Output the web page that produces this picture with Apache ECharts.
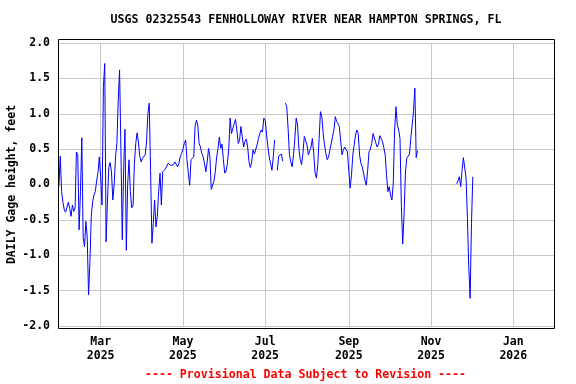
<!DOCTYPE html>
<html><head><meta charset="utf-8">
<script src="https://cdn.jsdelivr.net/npm/echarts@6/dist/echarts.min.js"></script>
<style>html,body{margin:0;padding:0;background:#fff}#c{width:576px;height:384px}</style>
</head><body><div id="c"></div>
<script>
const titleText = 'USGS 02325543 FENHOLLOWAY RIVER NEAR HAMPTON SPRINGS, FL';
const yAxisName = 'DAILY Gage height, feet';
const footerText = '---- Provisional Data Subject to Revision ----';

// daily values, first block starting 2025-01-29
const seg1Start = [2025, 1, 29];
const seg1Values = [
  -0.03, 0.40, -0.10, -0.25, -0.36, -0.39, -0.38, -0.25, -0.34, -0.45,
  -0.29, -0.38, -0.33, 0.46, 0.42, -0.64, -0.10, 0.66, -0.75, -0.88,
  -0.52, -0.74, -1.56, -1.10, -0.45, -0.25, -0.15, -0.10, 0.05, 0.17,
  0.39, 0.10, -0.29, 1.38, 1.71, -0.81, -0.25, 0.24, 0.31, 0.18,
  -0.22, 0.00, 0.39, 0.58, 1.19, 1.62, 0.50, -0.78, 0.20, 0.78,
  -0.93, 0.00, 0.35, -0.10, -0.33, -0.30, 0.30, 0.58, 0.73, 0.60,
  0.40, 0.32, 0.37, 0.37, 0.42, 0.60, 1.00, 1.15, 0.20, -0.83,
  -0.55, -0.22, -0.60, -0.45, -0.10, 0.16, -0.29, 0.18, 0.20, 0.22,
  0.22, 0.30, 0.32, 0.27, 0.25, 0.28, 0.32, 0.30, 0.25, 0.30,
  0.39, 0.44, 0.50, 0.58, 0.63, 0.35, 0.16, -0.01, 0.35, 0.37,
  0.39, 0.82, 0.91, 0.84, 0.58, 0.53, 0.44, 0.39, 0.30, 0.18,
  0.32, 0.51, 0.39, -0.07, -0.05, 0.05, 0.18, 0.39, 0.51, 0.67,
  0.51, 0.57, 0.35, 0.16, 0.19, 0.30, 0.51, 0.94, 0.72, 0.72,
  0.86, 0.92, 0.77, 0.58, 0.63, 0.82, 0.68, 0.53, 0.61, 0.64,
  0.53, 0.32, 0.24, 0.32, 0.49, 0.43, 0.45, 0.56, 0.65, 0.72,
  0.77, 0.74, 0.94, 0.91, 0.71, 0.53, 0.39, 0.30, 0.20, 0.39,
  0.63, null, 0.20, 0.40, 0.40, 0.43, 0.33, null, 1.15, 1.10,
  0.79, 0.42, 0.32, 0.25, 0.42, 0.65, 0.94, 0.84, 0.51, 0.35,
  0.28, 0.44, 0.68, 0.68, 0.56, 0.42, 0.44, 0.53, 0.65, 0.44,
  0.16, 0.09, 0.28, 0.65, 1.03, 0.96, 0.72, 0.56, 0.44, 0.35,
  0.39, 0.49, 0.58, 0.68, 0.77, 0.96, 0.89, 0.86, 0.82, 0.61,
  0.42, 0.49, 0.53, 0.51, 0.46, 0.20, -0.05, 0.13, 0.42, 0.56,
  0.70, 0.77, 0.72, 0.42, 0.30, 0.25, 0.25, 0.06, -0.01, 0.20,
  0.46, 0.50, 0.58, 0.72, 0.72, 0.59, 0.53, 0.57, 0.69, 0.67,
  0.61, 0.52, 0.42, 0.13, -0.10, -0.03, -0.15, -0.22, 0.02, 0.77,
  1.10, 0.84, 0.77, 0.65, -0.31, -0.84, -0.43, 0.16, 0.37, 0.40,
  0.43, 0.65, 0.84, 1.03, 1.36, 0.38, 0.48
];
// second block starting 2025-11-20
const seg2Start = [2025, 11, 20];
const seg2Values = [0.01, 0.05, 0.11, -0.03, 0.20, 0.38, 0.37, 0.09, -0.48, -1.16, -1.61, -0.55, 0.11];

const xMin = [2025, 1, 28, 8];
const xMax = [2026, 1, 31, 5];
const xTickDates = [[2025,3,1],[2025,5,1],[2025,7,1],[2025,9,1],[2025,11,1],[2026,1,1]];
const xTickLabels = ['Mar\n2025','May\n2025','Jul\n2025','Sep\n2025','Nov\n2025','Jan\n2026'];
const yMin = -2, yMax = 2, yStep = 0.5;

const DAY = 86400000;
const utc = a => Date.UTC(a[0], a[1]-1, a[2], a[3] || 0);
const data = [];
seg1Values.forEach((v, i) => data.push([utc(seg1Start) + i*DAY, v]));
data.push([utc(seg1Start) + seg1Values.length*DAY, null]);
seg2Values.forEach((v, i) => data.push([utc(seg2Start) + i*DAY, v]));
const tickTimes = xTickDates.map(utc);

const FONT = '"DejaVu Sans Mono", monospace';
const chart = echarts.init(document.getElementById('c'), null, {renderer: 'canvas'});
chart.setOption({
  animation: false,
  grid: {left: 58, right: 22, top: 43, bottom: 58, containLabel: false, outerBoundsMode: 'none'},
  xAxis: {
    type: 'value', min: utc(xMin), max: utc(xMax),
    axisLine: {show: false},
    axisTick: {show: false, customValues: tickTimes},
    splitLine: {show: true, lineStyle: {color: '#c8c8c8', width: 1}},
    axisLabel: {
      customValues: tickTimes,
      formatter: v => { const k = tickTimes.indexOf(v); return k >= 0 ? xTickLabels[k] : ''; },
      fontFamily: FONT, fontWeight: 'bold', fontSize: 11.5, color: '#000', lineHeight: 14, margin: 9
    }
  },
  yAxis: {
    type: 'value', min: yMin, max: yMax, interval: yStep,
    axisLine: {show: false}, axisTick: {show: false},
    splitLine: {show: true, lineStyle: {color: '#c8c8c8', width: 1}},
    axisLabel: {formatter: v => v.toFixed(1), fontFamily: FONT, fontWeight: 'bold', fontSize: 11.5, color: '#000', margin: 8},
    name: yAxisName, nameLocation: 'middle', nameGap: 40, nameRotate: 90, nameMoveOverlap: false,
    nameTextStyle: {fontFamily: FONT, fontWeight: 'bold', fontSize: 11.5, color: '#000'}
  },
  series: [{
    type: 'line', data: data, showSymbol: false, connectNulls: false,
    lineStyle: {color: '#0000ff', width: 1}, itemStyle: {color: '#0000ff'}
  }],
  graphic: [
    {type: 'rect', shape: {x: 58.5, y: 39.5, width: 496, height: 289}, style: {fill: null, stroke: '#000', lineWidth: 1}, z: 100},
    {type: 'text', x: 306, y: 20, style: {text: titleText, align: 'center', verticalAlign: 'middle', font: 'bold 11.6px ' + FONT, fill: '#000'}},
    {type: 'text', x: 305.5, y: 375, style: {text: footerText, align: 'center', verticalAlign: 'middle', font: 'bold 11.6px ' + FONT, fill: '#ff0000'}}
  ]
});
</script></body></html>
